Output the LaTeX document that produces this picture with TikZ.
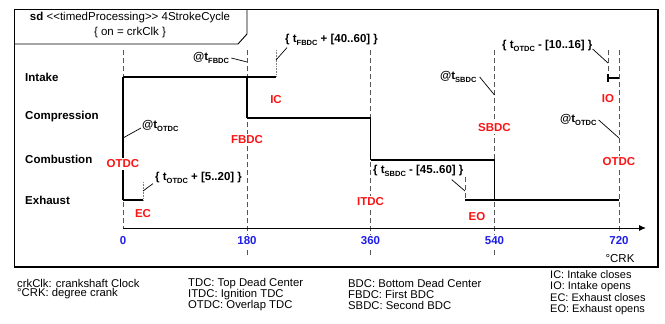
\documentclass[tikz,border=0pt]{standalone}
\usepackage{fontspec}
\setmainfont{Liberation Sans}
\usetikzlibrary{arrows.meta}
\definecolor{lblred}{RGB}{250,20,20}
\definecolor{lblblue}{RGB}{30,30,235}
\definecolor{gridgray}{RGB}{85,85,85}
\newcommand\subtx[1]{\raisebox{-0.4ex}{\fontsize{7.5}{8}\selectfont #1}}
\newcommand\fnt{\fontsize{11.5}{13}\selectfont}
\begin{document}
\begin{tikzpicture}[x=1pt,y=-1pt,
  every node/.style={inner sep=0pt},
  rowlbl/.style={anchor=west, font=\fnt\bfseries},
  evlbl/.style={text=lblred, fill=white, inner sep=1.5pt, font=\fnt\bfseries},
  numlbl/.style={text=lblblue, fill=white, inner sep=1.5pt, font=\fnt\bfseries},
  annot/.style={anchor=west, font=\fnt\bfseries},
  leader/.style={line width=0.7pt},
  gridln/.style={gridgray, line width=0.9pt, dash pattern=on 5pt off 3pt},
  dotln/.style={gray, line width=1pt, dash pattern=on 0.8pt off 0.8pt},
  sig/.style={line width=2pt, black},
  sigv/.style={line width=1.7pt, black},
  legend/.style={anchor=west, font=\fontsize{11.3}{12}\selectfont},
  legendb/.style={anchor=west, font=\fontsize{11}{11}\selectfont},
]
\useasboundingbox (0,0) rectangle (665,324);
% frame
\draw[line width=0.9pt] (14,267) -- (14,9) -- (658,9);
\draw[line width=1.8pt] (658,9) -- (658,267) -- (13.5,267);
\draw[line width=0.9pt] (14,44) -- (238,44) -- (247,34) -- (247,9);
\node[font=\fnt] (title) at (130,18) {\textbf{sd} <{}<timedProcessing>{}> 4StrokeCycle};
\node[font=\fnt] (clock) at (130,33) {\{ on = crkClk \}};

% coordinates
\foreach \n/\x in {a/123,b/247,c/370.5,d/494.5,e/619}{
  \coordinate (\n top) at (\x,50);
}
\coordinate (abot) at (123,228);
\coordinate (bbot) at (247,256);
\coordinate (cbot) at (370.5,256);
\coordinate (dbot) at (494.5,257);
\coordinate (ebot) at (619,231);
\foreach \n in {a,b,c,d,e}{ \draw[gridln] (\n top) -- (\n bot); }

% extra event lines
\coordinate (ictop) at (276,50);  \coordinate (icbot) at (276,77);
\coordinate (ectop) at (143,182); \coordinate (ecbot) at (143,200);
\coordinate (eotop) at (465,177); \coordinate (eobot) at (465,200);
\coordinate (iotop) at (608,50);  \coordinate (iobot) at (608,80);
\draw[dotln] (ictop) -- (icbot);
\draw[dotln] (ectop) -- (ecbot);
\draw[gridln] (eotop) -- (eobot);
\draw[gridln] (iotop) -- (iobot);

% signals
\coordinate (in0) at (123,77);  \coordinate (in1) at (276,77);
\coordinate (co0) at (247,77);  \coordinate (co1) at (247,118); \coordinate (co2) at (370.5,118);
\coordinate (cb0) at (370.5,160); \coordinate (cb1) at (494.5,160);
\coordinate (ex0) at (123,200); \coordinate (ex1) at (143,200);
\coordinate (ex2) at (494.5,200); \coordinate (ex3) at (619,200); \coordinate (eo0) at (465,200);
\coordinate (io0) at (608,78); \coordinate (io1) at (619,78);
\coordinate (io2) at (608,74); \coordinate (io3) at (608,82);
\draw[sig] (in0) -- (in1);
\draw[sigv] (in0) -- (ex0);
\draw[sig] (ex0) -- (ex1);
\draw[sigv] (co0) -- (co1);
\draw[sig] (co1) -- (co2);
\draw[sigv] (co2) -- (cb0);
\draw[sig] (cb0) -- (cb1);
\draw[sigv] (cb1) -- (ex2);
\draw[sig] (eo0) -- (ex3);
\draw[sig] (io0) -- (io1);
\draw[sigv] (io2) -- (io3);

% axis
\coordinate (axend) at (646,228);
\draw[line width=0.9pt, -{Latex[length=7pt,width=6pt]}] (abot) -- (axend);

% row labels
\node[rowlbl] (rIntake) at (25,77) {Intake};
\node[rowlbl] (rComp) at (25,117) {Compression};
\node[rowlbl] (rComb) at (25,159) {Combustion};
\node[rowlbl] (rExh) at (25,200) {Exhaust};

% event labels
\node[evlbl] (lOTDCa) at (123,164) {OTDC};
\node[evlbl] (lFBDC) at (247,140) {FBDC};
\node[evlbl] (lITDC) at (370.5,202) {ITDC};
\node[evlbl] (lSBDC) at (494.5,128) {SBDC};
\node[evlbl] (lOTDCb) at (619,162) {OTDC};
\node[evlbl] (lIC) at (276,100) {IC};
\node[evlbl] (lEC) at (143,214) {EC};
\node[evlbl] (lEO) at (477,217) {EO};
\node[evlbl] (lIO) at (608,99) {IO};

% axis numbers
\node[numlbl] (n0) at (123,241) {0};
\node[numlbl] (n180) at (247,241) {180};
\node[numlbl] (n360) at (370.5,241) {360};
\node[numlbl] (n540) at (494.5,241) {540};
\node[numlbl] (n720) at (619,241) {720};
\node[font=\fnt] (crk) at (620,259) {°CRK};

% annotations
\node[annot] (aFBDC) at (193,58) {@t\subtx{FBDC}};
\node[annot] (aIC) at (285,40) {\{ t\subtx{FBDC} + [40..60] \}};
\node[annot] (aOTDCa) at (142,126) {@t\subtx{OTDC}};
\node[annot] (aEC) at (155,178) {\{ t\subtx{OTDC} + [5..20] \}};
\node[annot] (aEO) at (373,171) {\{ t\subtx{SBDC} - [45..60] \}};
\node[annot] (aSBDC) at (440,77) {@t\subtx{SBDC}};
\node[annot] (aIO) at (502,46) {\{ t\subtx{OTDC} - [10..16] \}};
\node[annot] (aOTDCb) at (560,120) {@t\subtx{OTDC}};

\coordinate (pFBDC) at (247,62);
\coordinate (pIC) at (276,60);
\coordinate (pOTDCa) at (123,138);
\coordinate (pEC) at (143,191);
\coordinate (pEO) at (465,191);
\coordinate (pSBDC) at (494.5,95);
\coordinate (pIO) at (608,63);
\coordinate (pOTDCb) at (619,138);
\draw[leader] (aFBDC.east) ++(2,0) -- (pFBDC);
\draw[leader] (aIC.south west) ++(2,2) -- (pIC);
\draw[leader] (aOTDCa.west) ++(-1,2) -- (pOTDCa);
\draw[leader] (aEC.south west) ++(-2,0) -- (pEC);
\draw[leader] (aEO.south east) ++(-12,3) -- (pEO);
\draw[leader] (aSBDC.east) ++(3,0) -- (pSBDC);
\draw[leader] (aIO.east) ++(0,3) -- (pIO);
\draw[leader] (aOTDCb.east) ++(2,0) -- (pOTDCb);

% legend
\node[legend] (g1) at (17,283) {crkClk: crankshaft Clock};
\node[legend] (g2) at (17,294) {°CRK: degree crank};
\node[legend] (g3) at (188,284) {TDC: Top Dead Center};
\node[legend] (g4) at (188,295) {ITDC: Ignition TDC};
\node[legend] (g5) at (188,306) {OTDC: Overlap TDC};
\node[legend] (g6) at (348,283) {BDC: Bottom Dead Center};
\node[legend] (g7) at (348,294) {FBDC: First BDC};
\node[legend] (g8) at (348,305) {SBDC: Second BDC};
\node[legendb] (g9) at (550,275) {IC: Intake closes};
\node[legendb] (g10) at (550,286.5) {IO: Intake opens};
\node[legendb] (g11) at (550,298) {EC: Exhaust closes};
\node[legendb] (g12) at (550,309.5) {EO: Exhaust opens};
\end{tikzpicture}
\end{document}
